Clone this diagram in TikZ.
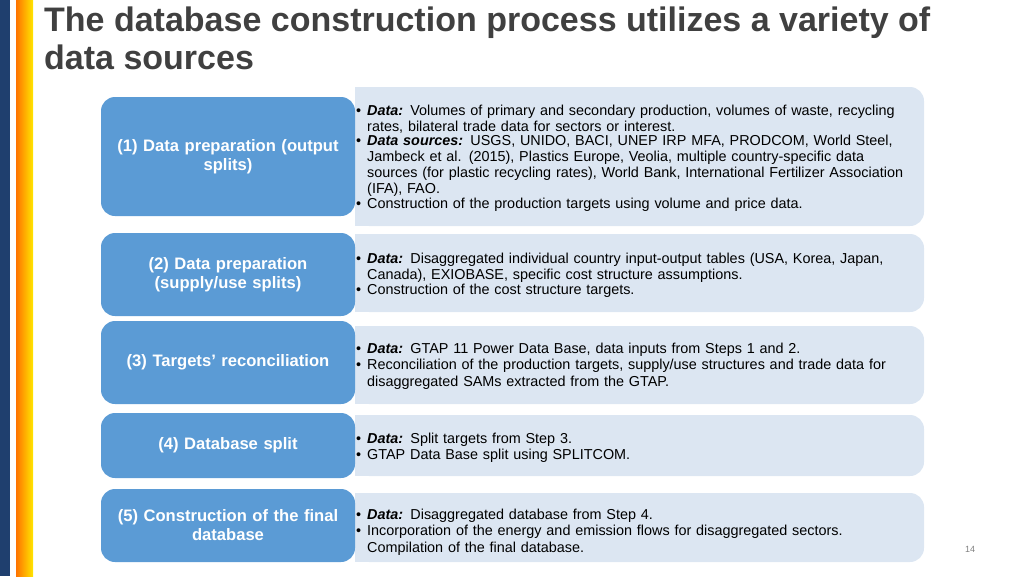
\documentclass[tikz,border=0pt]{standalone}
\usepackage{fontspec}
\setmainfont{Liberation Sans}
\begin{document}
\begin{tikzpicture}[x=1pt,y=-1pt,
  stepbox/.style={fill=stepblue,draw=none,rounded corners=14pt,text=white,font=\fontsize{16.6}{19}\selectfont\bfseries,align=center,text width=250pt,inner sep=0pt},
  ptext/.style={anchor=north west,font=\fontsize{14.4}{16.3}\selectfont,text width=570pt,inner sep=0pt,align=left}]
\definecolor{stepblue}{HTML}{5B9BD5}
\definecolor{panelblue}{HTML}{DCE6F2}
\definecolor{navy}{HTML}{1F3F6E}
\definecolor{titlec}{HTML}{404040}
\useasboundingbox (0,0) rectangle (1024,576);
\fill[navy] (0,0) rectangle (10,576);
\shade[left color=orange!90!red, right color=yellow!80!orange] (16,0) rectangle (33,576);
\node[anchor=north west,inner sep=0pt,text=titlec,font=\fontsize{34}{38}\selectfont\bfseries,align=left] (title) at (44,7) {The database construction process utilizes a variety of\\data sources};
\newcommand{\itm}[1]{\par\noindent\makebox[11pt][l]{\textbullet}\parbox[t]{555pt}{\raggedright #1}\par}
\def\panelbox#1#2{\fill[panelblue,rounded corners=14pt] (355,#1) rectangle (924,#2); \fill[panelblue] (355,#1) rectangle (400,#2);}
\panelbox{87}{226}
\panelbox{234}{312}
\panelbox{326}{404}
\panelbox{415}{476}
\panelbox{493}{562}
\node[stepbox,minimum height=119pt,minimum width=254pt] (s1) at (228,156.5) {(1) Data preparation (output\\splits)};
\node[stepbox,minimum height=83pt,minimum width=254pt] (s2) at (228,274.5) {(2) Data preparation\\(supply/use splits)};
\node[stepbox,minimum height=83pt,minimum width=254pt] (s3) at (228,362.5) {(3) Targets’ reconciliation};
\node[stepbox,minimum height=65pt,minimum width=254pt] (s4) at (228,445.5) {(4) Database split};
\node[stepbox,minimum height=73pt,minimum width=254pt] (s5) at (228,525.5) {(5) Construction of the final\\database};
\node[ptext] (t1) at (356,99) {\itm{\textbf{\textit{Data:}} Volumes of primary and secondary production, volumes of waste, recycling\\rates, bilateral trade data for sectors or interest.}
\itm{\textbf{\textit{Data sources:}} USGS, UNIDO, BACI, UNEP IRP MFA, PRODCOM, World Steel,\\Jambeck et al. (2015), Plastics Europe, Veolia, multiple country-specific data\\sources (for plastic recycling rates), World Bank, International Fertilizer Association\\(IFA), FAO.}
\itm{Construction of the production targets using volume and price data.}};
\node[ptext] (t2) at (356,247) {\itm{\textbf{\textit{Data:}} Disaggregated individual country input-output tables (USA, Korea, Japan,\\Canada), EXIOBASE, specific cost structure assumptions.}
\itm{Construction of the cost structure targets.}};
\node[ptext] (t3) at (356,337) {\itm{\textbf{\textit{Data:}} GTAP 11 Power Data Base, data inputs from Steps 1 and 2.}
\itm{Reconciliation of the production targets, supply/use structures and trade data for\\disaggregated SAMs extracted from the GTAP.}};
\node[ptext] (t4) at (356,427) {\itm{\textbf{\textit{Data:}} Split targets from Step 3.}
\itm{GTAP Data Base split using SPLITCOM.}};
\node[ptext] (t5) at (356,503) {\itm{\textbf{\textit{Data:}} Disaggregated database from Step 4.}
\itm{Incorporation of the energy and emission flows for disaggregated sectors.\\Compilation of the final database.}};
\node[font=\fontsize{9}{10}\selectfont,text=gray] (pg) at (970,549) {14};
\end{tikzpicture}
\end{document}
